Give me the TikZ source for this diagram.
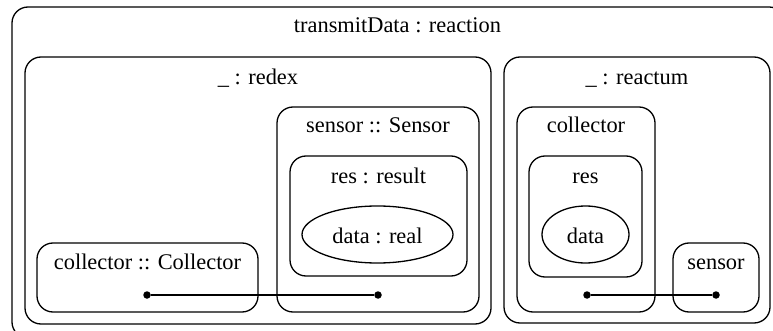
\documentclass[tikz,border=0pt]{standalone}
\usepackage{fontspec}
\setmainfont{Liberation Serif}
\usetikzlibrary{shapes.geometric}
\begin{document}
\begin{tikzpicture}[x=1pt,y=-1pt,
  box/.style={draw, line width=1.3pt, rounded corners=16pt, rectangle, inner sep=0pt},
  ell/.style={draw, line width=1.3pt, ellipse, inner sep=0pt},
  lbl/.style={anchor=base, inner sep=0pt, font=\fontsize{22.4}{26}\selectfont},
  dot/.style={circle, fill, inner sep=0pt, minimum size=7.5pt},
  link/.style={line width=1.3pt}]
\useasboundingbox (0,0) rectangle (773,331);
\clip (0,0) rectangle (773,331);
% outer
\node[box, minimum width=773pt, minimum height=331pt] (outer) at (398.5,172.5) {};
\node[lbl] (tOuter) at (397.5,33) {transmitData : reaction};
% redex
\node[box, minimum width=466pt, minimum height=267pt] (redex) at (258,190.5) {};
\node[lbl] (tRedex) at (258,85) {\_ : redex};
\node[box, minimum width=202pt, minimum height=205pt] (sensS) at (378,209.5) {};
\node[lbl] (tSensS) at (378,133) {sensor :: Sensor};
\node[box, minimum width=177pt, minimum height=120pt] (resR) at (378.5,216) {};
\node[lbl] (tResR) at (378.5,183) {res : result};
\node[ell, minimum width=151pt, minimum height=57pt] (dataR) at (377.5,234.5) {};
\node[lbl] (tDataR) at (377.5,243) {data : real};
\node[box, minimum width=221pt, minimum height=69pt] (collC) at (147.5,277.5) {};
\node[lbl] (tCollC) at (147.5,269) {collector :: Collector};
\node[dot] (d1) at (147,295) {};
\node[dot] (d2) at (378,295) {};
\draw[link] (d1) -- (d2);
% reactum
\node[box, minimum width=266pt, minimum height=266pt] (reactum) at (637,190) {};
\node[lbl] (tReactum) at (637,85) {\_ : reactum};
\node[box, minimum width=138pt, minimum height=205pt] (collA) at (586,209.5) {};
\node[lbl] (tCollA) at (586,133) {collector};
\node[box, minimum width=113pt, minimum height=121pt] (resA) at (585.5,216.5) {};
\node[lbl] (tResA) at (585.5,183) {res};
\node[ell, minimum width=87pt, minimum height=57pt] (dataA) at (585.5,234.5) {};
\node[lbl] (tDataA) at (585.5,243) {data};
\node[box, minimum width=86pt, minimum height=69pt] (sensA) at (716,277.5) {};
\node[lbl] (tSensA) at (716,269) {sensor};
\node[dot] (d3) at (587,295) {};
\node[dot] (d4) at (716,295) {};
\draw[link] (d3) -- (d4);
\end{tikzpicture}
\end{document}
